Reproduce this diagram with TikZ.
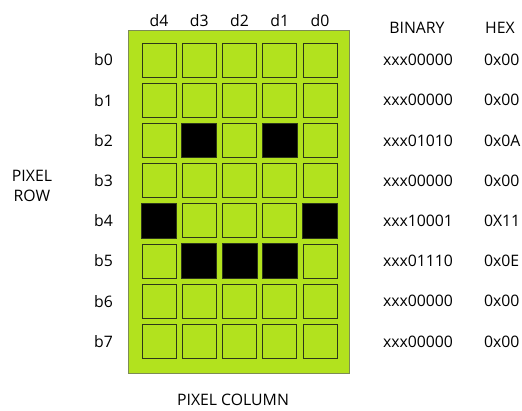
\documentclass[tikz,border=0pt]{standalone}
\usepackage{fontspec}
\setmainfont{Open Sans}
\definecolor{lcdgreen}{RGB}{178,226,30}
\definecolor{lcdedge}{RGB}{125,140,85}
\definecolor{celledge}{RGB}{45,55,25}

\begin{document}
\begin{tikzpicture}[x=1pt,y=-1pt,font=\fontsize{15.8}{19.5}\selectfont,
  cell/.style={draw=celledge,line width=0.9pt,minimum size=34pt,inner sep=0pt}]
\useasboundingbox (0,0) rectangle (522,410);

% board
\draw[lcdedge,fill=lcdgreen] (128,30) rectangle (349,373);

% column labels
\foreach \name [count=\i from 0] in {d4,d3,d2,d1,d0}
  \node (\name) at (159+40.25*\i,21) {\name};

\node (binary) at (417,28) {BINARY};
\node (hexhead) at (500,28) {HEX};

% pixel grid
\foreach \c in {0,...,4}
  \foreach \r in {0,...,7}
    \node[cell] (p\c-\r) at (159+40.25*\c,60+40.2*\r) {};

% lit pixels
\foreach \c/\r in {1/2,3/2,0/4,4/4,1/5,2/5,3/5}
  \draw[celledge,line width=0.9pt,fill=black] (p\c-\r.north west) rectangle (p\c-\r.south east);

% rows with their codes
\foreach \bin/\hex [count=\j from 0] in {00000/0x00,00000/0x00,01010/0x0A,00000/0x00,
                                          10001/0X11,01110/0x0E,00000/0x00,00000/0x00}{
  \node (b\j) at (103.5,60+40.2*\j) {b\j};
  \node (bin\j) at (418,60+40.2*\j) {xxx\bin};
  \node[anchor=west] (hex\j) at (480.5,60+40.2*\j) {\hex};
}

\node[align=center] (pixrow) at (32,186) {PIXEL\\ROW};
\node (pixcol) at (233,400) {PIXEL COLUMN};
\end{tikzpicture}
\end{document}
